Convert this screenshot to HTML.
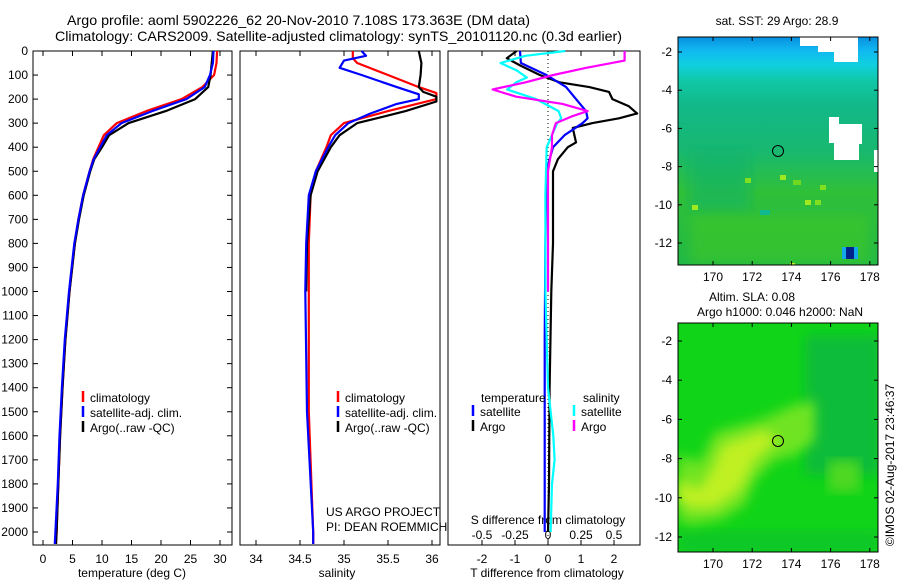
<!DOCTYPE html>
<html><head><meta charset="utf-8">
<style>
html,body{margin:0;padding:0;background:#fff;}
svg{display:block;font-family:"Liberation Sans",sans-serif;}
</style></head>
<body>
<svg id="chart" width="900" height="580" viewBox="0 0 900 580">
<defs>
<linearGradient id="sstGrad" x1="0" y1="0" x2="0" y2="1">
<stop offset="0" stop-color="#0890e0"/><stop offset="0.06" stop-color="#10b8f0"/>
<stop offset="0.12" stop-color="#10d0e0"/><stop offset="0.19" stop-color="#10c8a8"/>
<stop offset="0.3" stop-color="#12b888"/><stop offset="0.5" stop-color="#18b870"/>
<stop offset="0.68" stop-color="#30c038"/><stop offset="1" stop-color="#20b848"/></linearGradient>
<filter id="blur"><feGaussianBlur stdDeviation="6"/></filter>
<clipPath id="clipTop"><rect x="678" y="37" width="200" height="228"/></clipPath>
<clipPath id="clipBot"><rect x="678" y="323" width="200" height="229"/></clipPath>
</defs>
<text x="67" y="25" font-size="14" textLength="463" lengthAdjust="spacingAndGlyphs">Argo profile: aoml 5902226_62 20-Nov-2010 7.108S 173.363E (DM data)</text>
<text x="55" y="41" font-size="14" textLength="567" lengthAdjust="spacingAndGlyphs">Climatology: CARS2009. Satellite-adjusted climatology: synTS_20101120.nc (0.3d earlier)</text>
<g id="panels"></g>
<!-- maps -->
<g>
<text x="777" y="25" font-size="12" text-anchor="middle">sat. SST: 29 Argo: 28.9</text>
<g clip-path="url(#clipTop)">
<rect x="678" y="37" width="200" height="228" fill="url(#sstGrad)"/>
<rect x="690" y="150" width="60" height="60" fill="#10b070" opacity="0.5" filter="url(#blur)"/>
<rect x="690" y="215" width="180" height="50" fill="#40c828" opacity="0.6" filter="url(#blur)"/>
<rect x="780" y="175" width="6" height="5" fill="#a0e820"/><rect x="805" y="200" width="6" height="5" fill="#a0e820"/>
<rect x="820" y="185" width="6" height="5" fill="#80e020"/><rect x="692" y="205" width="6" height="5" fill="#a0e820"/>
<rect x="745" y="178" width="6" height="5" fill="#80e020"/><rect x="790" y="263" width="5" height="4" fill="#c0f020"/>
<rect x="793" y="180" width="8" height="5" fill="#70d820"/><rect x="815" y="200" width="6" height="5" fill="#80e020"/>
<rect x="760" y="210" width="10" height="5" fill="#10b890"/>
<path d="M800 37 H858 V62 H834 V52 H818 V46 H800 Z" fill="#fff"/>
<path d="M829 117 H839 V124 H862 V144 H859 V160 H834 V143 H829 Z" fill="#fff"/>
<rect x="874" y="150" width="4" height="22" fill="#fff"/>
<rect x="846" y="247" width="8" height="12" fill="#00208a"/><rect x="842" y="247" width="4" height="12" fill="#10a8e8"/><rect x="854" y="247" width="4" height="12" fill="#10a8e8"/>
</g>
<rect x="678" y="37" width="200" height="228" fill="none" stroke="#000" stroke-width="1"/>
<circle cx="778" cy="151" r="5.5" fill="none" stroke="#000" stroke-width="1"/>
</g>
<g>
<text x="752" y="301" font-size="12" text-anchor="middle">Altim. SLA: 0.08</text>
<text x="780" y="316" font-size="12" text-anchor="middle">Argo h1000: 0.046 h2000: NaN</text>
<g clip-path="url(#clipBot)">
<rect x="678" y="323" width="200" height="229" fill="#10d418"/>
<rect x="805" y="335" width="75" height="140" fill="#10b840" opacity="0.85" filter="url(#blur)"/>
<rect x="678" y="530" width="200" height="25" fill="#10c030" opacity="0.6" filter="url(#blur)"/>
<path d="M678 455 L700 462 L715 432 L760 420 L795 405 L815 400 L815 440 L795 455 L775 460 L755 480 L745 505 L720 520 L690 525 L678 520 Z" fill="#70e420" filter="url(#blur)"/>
<path d="M678 478 L698 490 L712 470 L722 445 L765 430 L778 440 L755 460 L740 490 L715 508 L690 508 L678 500 Z" fill="#c0f020" filter="url(#blur)"/>
<rect x="828" y="460" width="32" height="32" fill="#50d820" filter="url(#blur)"/>
</g>
<rect x="678" y="323" width="200" height="229" fill="none" stroke="#000" stroke-width="1"/>
<circle cx="778" cy="441" r="5.5" fill="none" stroke="#000" stroke-width="1"/>
</g>
<g id="mapaxes"></g>
<text transform="translate(894,465) rotate(-90)" font-size="12" text-anchor="middle">©IMOS 02-Aug-2017 23:46:37</text>
</svg>
<script>
// depth grid shared by profiles
const tDepths = [0,50,100,150,200,250,300,350,400,450,500,600,700,800,1000,1200,1400,1600,1800,2000,2050];
const tempClim = [29.5,29.4,29.0,27.0,23.5,17.5,12.5,10.3,9.4,8.5,7.9,6.8,6.0,5.4,4.5,3.8,3.3,2.9,2.6,2.3,2.2];
const tempSat  = [28.9,28.8,28.3,27.4,24.3,18.5,13.3,10.8,9.7,8.6,7.9,6.8,6.0,5.3,4.4,3.7,3.2,2.8,2.5,2.1,2.0];
const tempArgo = [28.8,28.6,28.4,28.0,25.8,20.8,14.5,11.2,10.0,8.7,8.0,6.9,6.1,5.4,4.5,3.8,3.3,2.9,2.6,2.3,2.2];
const sDepthsClim = [0,30,50,100,150,175,200,250,300,350,400,500,600,800,1000,1500,2000,2050];
const salClim = [35.1,35.1,35.15,35.5,35.85,36.05,36.05,35.5,35.0,34.85,34.8,34.68,34.62,34.6,34.6,34.6,34.65,34.65];
const sDepthsSat = [0,20,40,70,100,150,180,200,220,260,300,350,400,500,600,800,1000,1500,2000,2050];
const salSat = [35.2,35.25,35.0,34.95,35.2,35.6,35.85,35.85,35.6,35.3,35.05,34.9,34.82,34.68,34.6,34.57,34.56,34.58,34.65,34.65];
const sDepthsArgo = [0,50,100,150,170,190,210,250,300,350,400,500,600,800,1000];
const salArgo = [35.85,35.88,35.87,35.85,35.9,36.05,36.05,35.7,35.15,34.95,34.85,34.7,34.62,34.58,34.57];
// differences
const dDepthsSat = [0,50,100,150,200,250,280,300,350,400,450,500,800,1200,1600,2000];
const tDiffSat = [-0.85,-0.82,-0.05,0.55,0.85,1.15,1.2,1.05,0.5,0.15,0.05,-0.05,-0.08,-0.1,-0.1,-0.1];
const dDepthsArgo = [0,30,60,100,130,150,170,200,230,260,280,300,320,350,380,400,450,500,600,800,1000,1400,1800,2000];
const tDiffArgo = [-0.95,-1.25,-0.85,-0.25,0.35,1.25,1.85,1.95,2.45,2.7,2.15,1.35,0.75,0.8,0.85,0.6,0.3,0.15,0.15,0.15,0.1,0.05,0.03,0.0];
const sdDepthsSat = [0,20,50,80,110,130,160,200,250,280,300,350,400,600,1000,1400,1600,1700,1800,2000];
const sDiffSat = [0.13,-0.17,-0.36,-0.24,-0.16,-0.24,-0.31,-0.09,0.08,0.1,0.07,0.03,-0.01,-0.02,-0.02,0.0,0.04,0.05,0.03,0.02];
const sdDepthsArgo = [0,40,70,100,130,160,190,220,250,270,300,350,400,500,1000];
const sDiffArgo = [0.58,0.58,0.29,0.04,-0.17,-0.42,-0.24,0.11,0.3,0.19,0.06,0.03,0.03,0.0,0.0];
const depthTicks = [0,100,200,300,400,500,600,700,800,900,1000,1100,1200,1300,1400,1500,1600,1700,1800,1900,2000];
const tempTicks = [0,5,10,15,20,25,30];
const salTicks = [34,34.5,35,35.5,36];
const tdTicks = [-2,-1,0,1,2];
const sdTicks = [-0.5,-0.25,0,0.25,0.5];
const lonTicks = [170,172,174,176,178];
const latTicks = [-2,-4,-6,-8,-10,-12];

const NS="http://www.w3.org/2000/svg";
const root=document.getElementById('panels');
function mk(tag,attrs,parent){const e=document.createElementNS(NS,tag);for(const k in attrs)e.setAttribute(k,attrs[k]);(parent||root).appendChild(e);return e;}
const yD = d => 51 + d*0.2405;
const xT = t => 43 + t*5.9;
const xS = s => 256 + (s-34)*88;
const xTD = v => 548 + v*33;
const xSD = v => 548 + v*132;
const TOP=51, BOT=545;
function line(xs,ds,fx,color,name,w){
  let p='';for(let i=0;i<xs.length;i++){p+=(i?'L':'M')+fx(xs[i]).toFixed(1)+' '+yD(ds[i]).toFixed(1);}
  const e=mk('path',{d:p,fill:'none',stroke:color,'stroke-width':w||2.2,'stroke-linejoin':'round'});
  
  
}
function txt(x,y,s,anchor,size,name){const e=mk('text',{x:x,y:y,'font-size':size||12,'text-anchor':anchor||'start'});e.textContent=s;
  
  return e;}
// frames
[[33,232],[240,440],[448,640]].forEach((p,i)=>{
  const r=mk('rect',{x:p[0],y:TOP,width:p[1]-p[0],height:BOT-TOP,fill:'none',stroke:'#000','stroke-width':1});
  
  
});
// depth ticks/labels
depthTicks.forEach(d=>{
  const y=yD(d);
  mk('line',{x1:33,x2:38,y1:y,y2:y,stroke:'#000'});
  mk('line',{x1:227,x2:232,y1:y,y2:y,stroke:'#000'});
  txt(28,y+4,String(d),'end',12,'depth-tick-label');
});
tempTicks.forEach(t=>{const x=xT(t);mk('line',{x1:x,x2:x,y1:BOT,y2:BOT-5,stroke:'#000'});mk('line',{x1:x,x2:x,y1:TOP,y2:TOP+5,stroke:'#000'});txt(x,563,String(t),'middle',12,'temp-tick-label');});
salTicks.forEach(t=>{const x=xS(t);mk('line',{x1:x,x2:x,y1:BOT,y2:BOT-5,stroke:'#000'});mk('line',{x1:x,x2:x,y1:TOP,y2:TOP+5,stroke:'#000'});txt(x,563,String(t),'middle',12,'salinity-tick-label');});
tdTicks.forEach(t=>{const x=xTD(t);mk('line',{x1:x,x2:x,y1:BOT,y2:BOT-5,stroke:'#000'});mk('line',{x1:x,x2:x,y1:TOP,y2:TOP+5,stroke:'#000'});txt(x,563,String(t),'middle',12,'tdiff-tick-label');});
sdTicks.forEach(t=>{txt(xSD(t),539,String(t),'middle',12,'sdiff-tick-label');});
txt(132,577,'temperature (deg C)','middle',12,'temperature-axis-title');
txt(337,577,'salinity','middle',12,'salinity-axis-title');
txt(547,577,'T difference from climatology','middle',12,'tdiff-axis-title');
txt(548,524,'S difference from climatology','middle',12,'sdiff-axis-title');
// zero line
const z=mk('line',{x1:xTD(0),x2:xTD(0),y1:TOP,y2:BOT,stroke:'#000','stroke-dasharray':'1,3'});


// series
line(tempClim,tDepths,xT,'#f00','temp-climatology-line');
line(tempArgo,tDepths,xT,'#000','temp-argo-line');
line(tempSat,tDepths,xT,'#00f','temp-satellite-line');
line(salClim,sDepthsClim,xS,'#f00','sal-climatology-line');
line(salArgo,sDepthsArgo,xS,'#000','sal-argo-line');
line(salSat,sDepthsSat,xS,'#00f','sal-satellite-line');
line(tDiffArgo,dDepthsArgo,xTD,'#000','tdiff-argo-line');
line(tDiffSat,dDepthsSat,xTD,'#00f','tdiff-satellite-line');
line(sDiffSat,sdDepthsSat,xSD,'#0ff','sdiff-satellite-line');
line(sDiffArgo,sdDepthsArgo,xSD,'#f0f','sdiff-argo-line');
// legends
function leg(x,y,c,s,name){const l=mk('line',{x1:x,x2:x,y1:y-11,y2:y,stroke:c,'stroke-width':2.5});
  
  
  txt(x+7,y,s,'start',12,name);}
[[83,'t'],[338,'s']].forEach(a=>{
  leg(a[0],402,'#f00','climatology','legend-climatology');
  leg(a[0],417,'#00f','satellite-adj. clim.','legend-satellite');
  leg(a[0],432,'#000','Argo(..raw -QC)','legend-argo');
});
txt(481,402,'temperature','start',12,'legend-temperature-header');
txt(583,402,'salinity','start',12,'legend-salinity-header');
leg(473,416,'#00f','satellite','legend-tdiff-satellite');
leg(473,431,'#000','Argo','legend-tdiff-argo');
leg(574,416,'#0ff','satellite','legend-sdiff-satellite');
leg(574,431,'#f0f','Argo','legend-sdiff-argo');
txt(326,516,'US ARGO PROJECT','start',12,'project-credit');
txt(326,531,'PI: DEAN ROEMMICH','start',12,'pi-credit');
// map axes
const ma=document.getElementById('mapaxes');
const xLon = l => 713 + (l-170)*19.6;
[[37,265,52,243],[323,552,341,537]].forEach((m,mi)=>{
  const yLat = la => m[2] + (la+2)*(m[3]-m[2])/(-10);
  latTicks.forEach(la=>{const y=yLat(la);mk('line',{x1:678,x2:682,y1:y,y2:y,stroke:'#000'},ma);mk('line',{x1:874,x2:878,y1:y,y2:y,stroke:'#000'},ma);
    const t=mk('text',{x:672,y:y+4,'font-size':12,'text-anchor':'end'},ma);t.textContent=String(la);
    
    });
  lonTicks.forEach(lo=>{const x=xLon(lo);mk('line',{x1:x,x2:x,y1:m[0],y2:m[0]+4,stroke:'#000'},ma);mk('line',{x1:x,x2:x,y1:m[1],y2:m[1]-4,stroke:'#000'},ma);
    const t=mk('text',{x:x,y:m[1]+16,'font-size':12,'text-anchor':'middle'},ma);t.textContent=String(lo);
    
    });
});
</script>
</body></html>
